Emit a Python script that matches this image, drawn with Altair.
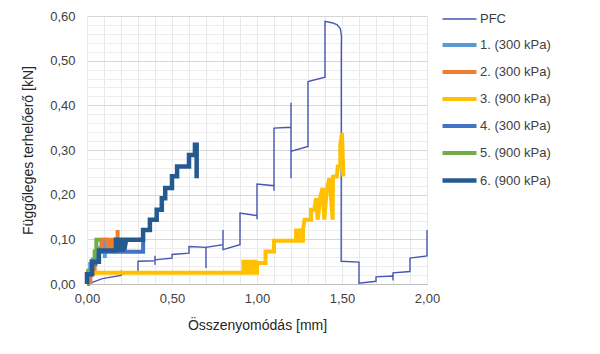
import altair as alt
import pandas as pd

series_names = ["PFC", "1. (300 kPa)", "2. (300 kPa)", "3. (900 kPa)",
                "4. (300 kPa)", "5. (900 kPa)", "6. (900 kPa)"]
series_colors = ["#4656b4", "#5b9bd5", "#ed7d31", "#ffc000",
                 "#4472c4", "#70ad47", "#245a90"]
series_widths = [1.4, 4, 4, 4, 4, 4, 4.5]

pfc_x = [0.00, 0.02, 0.09, 0.20, 0.20, 0.20, 0.30, 0.30, 0.40, 0.40, 0.40, 0.40,
         0.50, 0.50, 0.60, 0.60, 0.70, 0.70, 0.70, 0.80, 0.80, 0.80, 0.90, 0.90,
         1.00, 1.00, 1.00, 1.10, 1.10, 1.10, 1.20, 1.20, 1.20, 1.20, 1.30, 1.30,
         1.40, 1.40, 1.44, 1.47, 1.49, 1.497, 1.496, 1.495, 1.60, 1.60, 1.70, 1.70,
         1.80, 1.80, 1.80, 1.90, 1.90, 2.00, 2.00]
pfc_y = [0.000, 0.002, 0.012, 0.019, 0.030, 0.022, 0.028, 0.051, 0.052, 0.063, 0.043, 0.054,
         0.058, 0.066, 0.069, 0.084, 0.082, 0.036, 0.082, 0.088, 0.121, 0.077, 0.088, 0.159,
         0.153, 0.145, 0.224, 0.220, 0.209, 0.349, 0.351, 0.406, 0.237, 0.297, 0.308, 0.453,
         0.463, 0.588, 0.585, 0.581, 0.572, 0.555, 0.530, 0.051, 0.049, 0.002, 0.006, 0.016,
         0.018, 0.008, 0.025, 0.028, 0.058, 0.063, 0.121]

s1_x = [0.00, 0.01, 0.01, 0.035, 0.035, 0.065, 0.065, 0.10, 0.10, 0.125, 0.105, 0.105]
s1_y = [0.000, 0.012, 0.030, 0.030, 0.055, 0.055, 0.080, 0.080, 0.099, 0.099, 0.099, 0.058]

s2_x = [0.02, 0.02, 0.045, 0.045, 0.06, 0.06, 0.085, 0.085,
        0.125, 0.125, 0.135, 0.135, 0.145, 0.145, 0.155, 0.155, 0.165, 0.165,
        0.18, 0.18, 0.18]
s2_y = [0.000, 0.025, 0.025, 0.050, 0.050, 0.072, 0.072, 0.099,
        0.099, 0.077, 0.077, 0.099, 0.099, 0.077, 0.077, 0.099, 0.099, 0.077,
        0.099, 0.121, 0.099]

s3_x = [0.02, 0.92, 0.92, 0.93, 0.93, 0.94, 0.94, 0.95, 0.95, 0.96, 0.96, 0.97, 0.97,
        0.98, 0.98, 0.99, 0.99, 1.00, 1.00, 1.05, 1.05, 1.10, 1.10,
        1.23, 1.23, 1.24, 1.24, 1.25, 1.25, 1.26, 1.26, 1.27, 1.27, 1.28,
        1.318, 1.318, 1.337, 1.347, 1.357, 1.373, 1.386, 1.396, 1.41,
        1.426, 1.445, 1.447, 1.47, 1.475, 1.49, 1.49, 1.50, 1.508, 1.502]
s3_y = [0.025, 0.025, 0.050, 0.050, 0.025, 0.025, 0.050, 0.050, 0.025, 0.025, 0.050, 0.050, 0.025,
        0.025, 0.050, 0.050, 0.025, 0.025, 0.047, 0.047, 0.073, 0.073, 0.097,
        0.097, 0.120, 0.120, 0.097, 0.097, 0.120, 0.120, 0.097, 0.097, 0.121, 0.144,
        0.144, 0.166, 0.166, 0.192, 0.144, 0.196, 0.215, 0.144, 0.210,
        0.237, 0.144, 0.240, 0.241, 0.263, 0.263, 0.312, 0.338, 0.241, 0.260]

s4_x = [0.00, 0.00, 0.02, 0.02, 0.05, 0.05, 0.33, 0.33, 0.31]
s4_y = [0.000, 0.020, 0.020, 0.045, 0.045, 0.072, 0.072, 0.099, 0.099]

s5_x = [0.00, 0.006, 0.006, 0.026, 0.026, 0.045, 0.045, 0.055, 0.055, 0.08]
s5_y = [0.000, 0.000, 0.028, 0.028, 0.051, 0.051, 0.073, 0.073, 0.099, 0.099]

s6_x = [0.00, 0.00, 0.03, 0.03, 0.07, 0.07, 0.17,
        0.17, 0.18, 0.18, 0.19, 0.19, 0.20, 0.20, 0.21, 0.21, 0.22, 0.22, 0.23,
        0.33, 0.33, 0.37, 0.37, 0.41, 0.41, 0.44, 0.44, 0.46, 0.46, 0.50, 0.50, 0.53, 0.53,
        0.60, 0.60, 0.635, 0.635, 0.645, 0.645]
s6_y = [0.000, 0.022, 0.022, 0.050, 0.050, 0.075, 0.075,
        0.099, 0.099, 0.077, 0.077, 0.099, 0.099, 0.077, 0.077, 0.099, 0.099, 0.077, 0.099,
        0.099, 0.121, 0.121, 0.144, 0.144, 0.166, 0.166, 0.192, 0.192, 0.215,
        0.215, 0.241, 0.241, 0.263, 0.263, 0.289, 0.289, 0.312, 0.312, 0.237]

all_x = [pfc_x, s1_x, s2_x, s3_x, s4_x, s5_x, s6_x]
all_y = [pfc_y, s1_y, s2_y, s3_y, s4_y, s5_y, s6_y]

rows = []
for si, (name, xs, ys) in enumerate(zip(series_names, all_x, all_y)):
    for i, (xv, yv) in enumerate(zip(xs, ys)):
        rows.append({"series": name, "sidx": si, "i": i, "x": xv, "y": yv})
df = pd.DataFrame(rows)

x_ticks = [round(i * 0.1, 2) for i in range(21)]
y_ticks = [round(i * 0.02, 2) for i in range(31)]

font = "Liberation Sans"

x_axis = alt.Axis(
    values=x_ticks,
    labelExpr="abs(datum.value*2 - round(datum.value*2)) < 0.001 ? replace(format(datum.value, '.2f'), '.', ',') : ''",
    title="Összenyomódás  [mm]",
    ticks=False, domain=True, domainColor="#bfbfbf",
    gridColor="#e9e9e9", labelPadding=8, titlePadding=13,
    labelFlush=False,
)
y_axis = alt.Axis(
    values=y_ticks,
    labelExpr="abs(datum.value*10 - round(datum.value*10)) < 0.001 ? replace(format(datum.value, '.2f'), '.', ',') : ''",
    title="Függőleges terhelőerő [kN]",
    ticks=False, domain=False,
    gridColor={"condition": {"test": "abs(datum.value*10 - round(datum.value*10)) < 0.001",
                             "value": "#d6d6d6"}, "value": "#ededed"},
    labelPadding=12, titlePadding=14, labelFlush=False,
)

chart = alt.Chart(df).mark_line(strokeJoin="miter", strokeCap="butt").encode(
    x=alt.X("x:Q", scale=alt.Scale(domain=[0, 2], nice=False, zero=True), axis=x_axis),
    y=alt.Y("y:Q", scale=alt.Scale(domain=[0, 0.6], nice=False), axis=y_axis),
    color=alt.Color("series:N", scale=alt.Scale(domain=series_names, range=series_colors),
                    sort=series_names, title=None,
                    legend=alt.Legend(orient="none", legendX=353, legendY=-15,
                                      symbolType="stroke", symbolSize=1156,
                                      labelFontSize=13, labelColor="#404040",
                                      labelFont=font, rowPadding=0, labelOffset=1,
                                      padding=0)),
    strokeWidth=alt.StrokeWidth("series:N",
                                scale=alt.Scale(type="ordinal", domain=series_names, range=series_widths),
                                sort=series_names, title=None),
    order=alt.Order("i:Q"),
    detail="sidx:Q",
).properties(
    width=340, height=268,
    background="white",
    autosize=alt.AutoSizeParams(type="none"),
    padding={"left": 87, "top": 16, "right": 173, "bottom": 70},
).configure_axis(
    labelFont=font, titleFont=font, labelFontSize=13, titleFontSize=14,
    labelColor="#404040", titleColor="#262626", titleFontWeight="normal",
).configure_view(stroke=None)

chart.save("out.html", embed_options={"renderer": "svg", "actions": False})
